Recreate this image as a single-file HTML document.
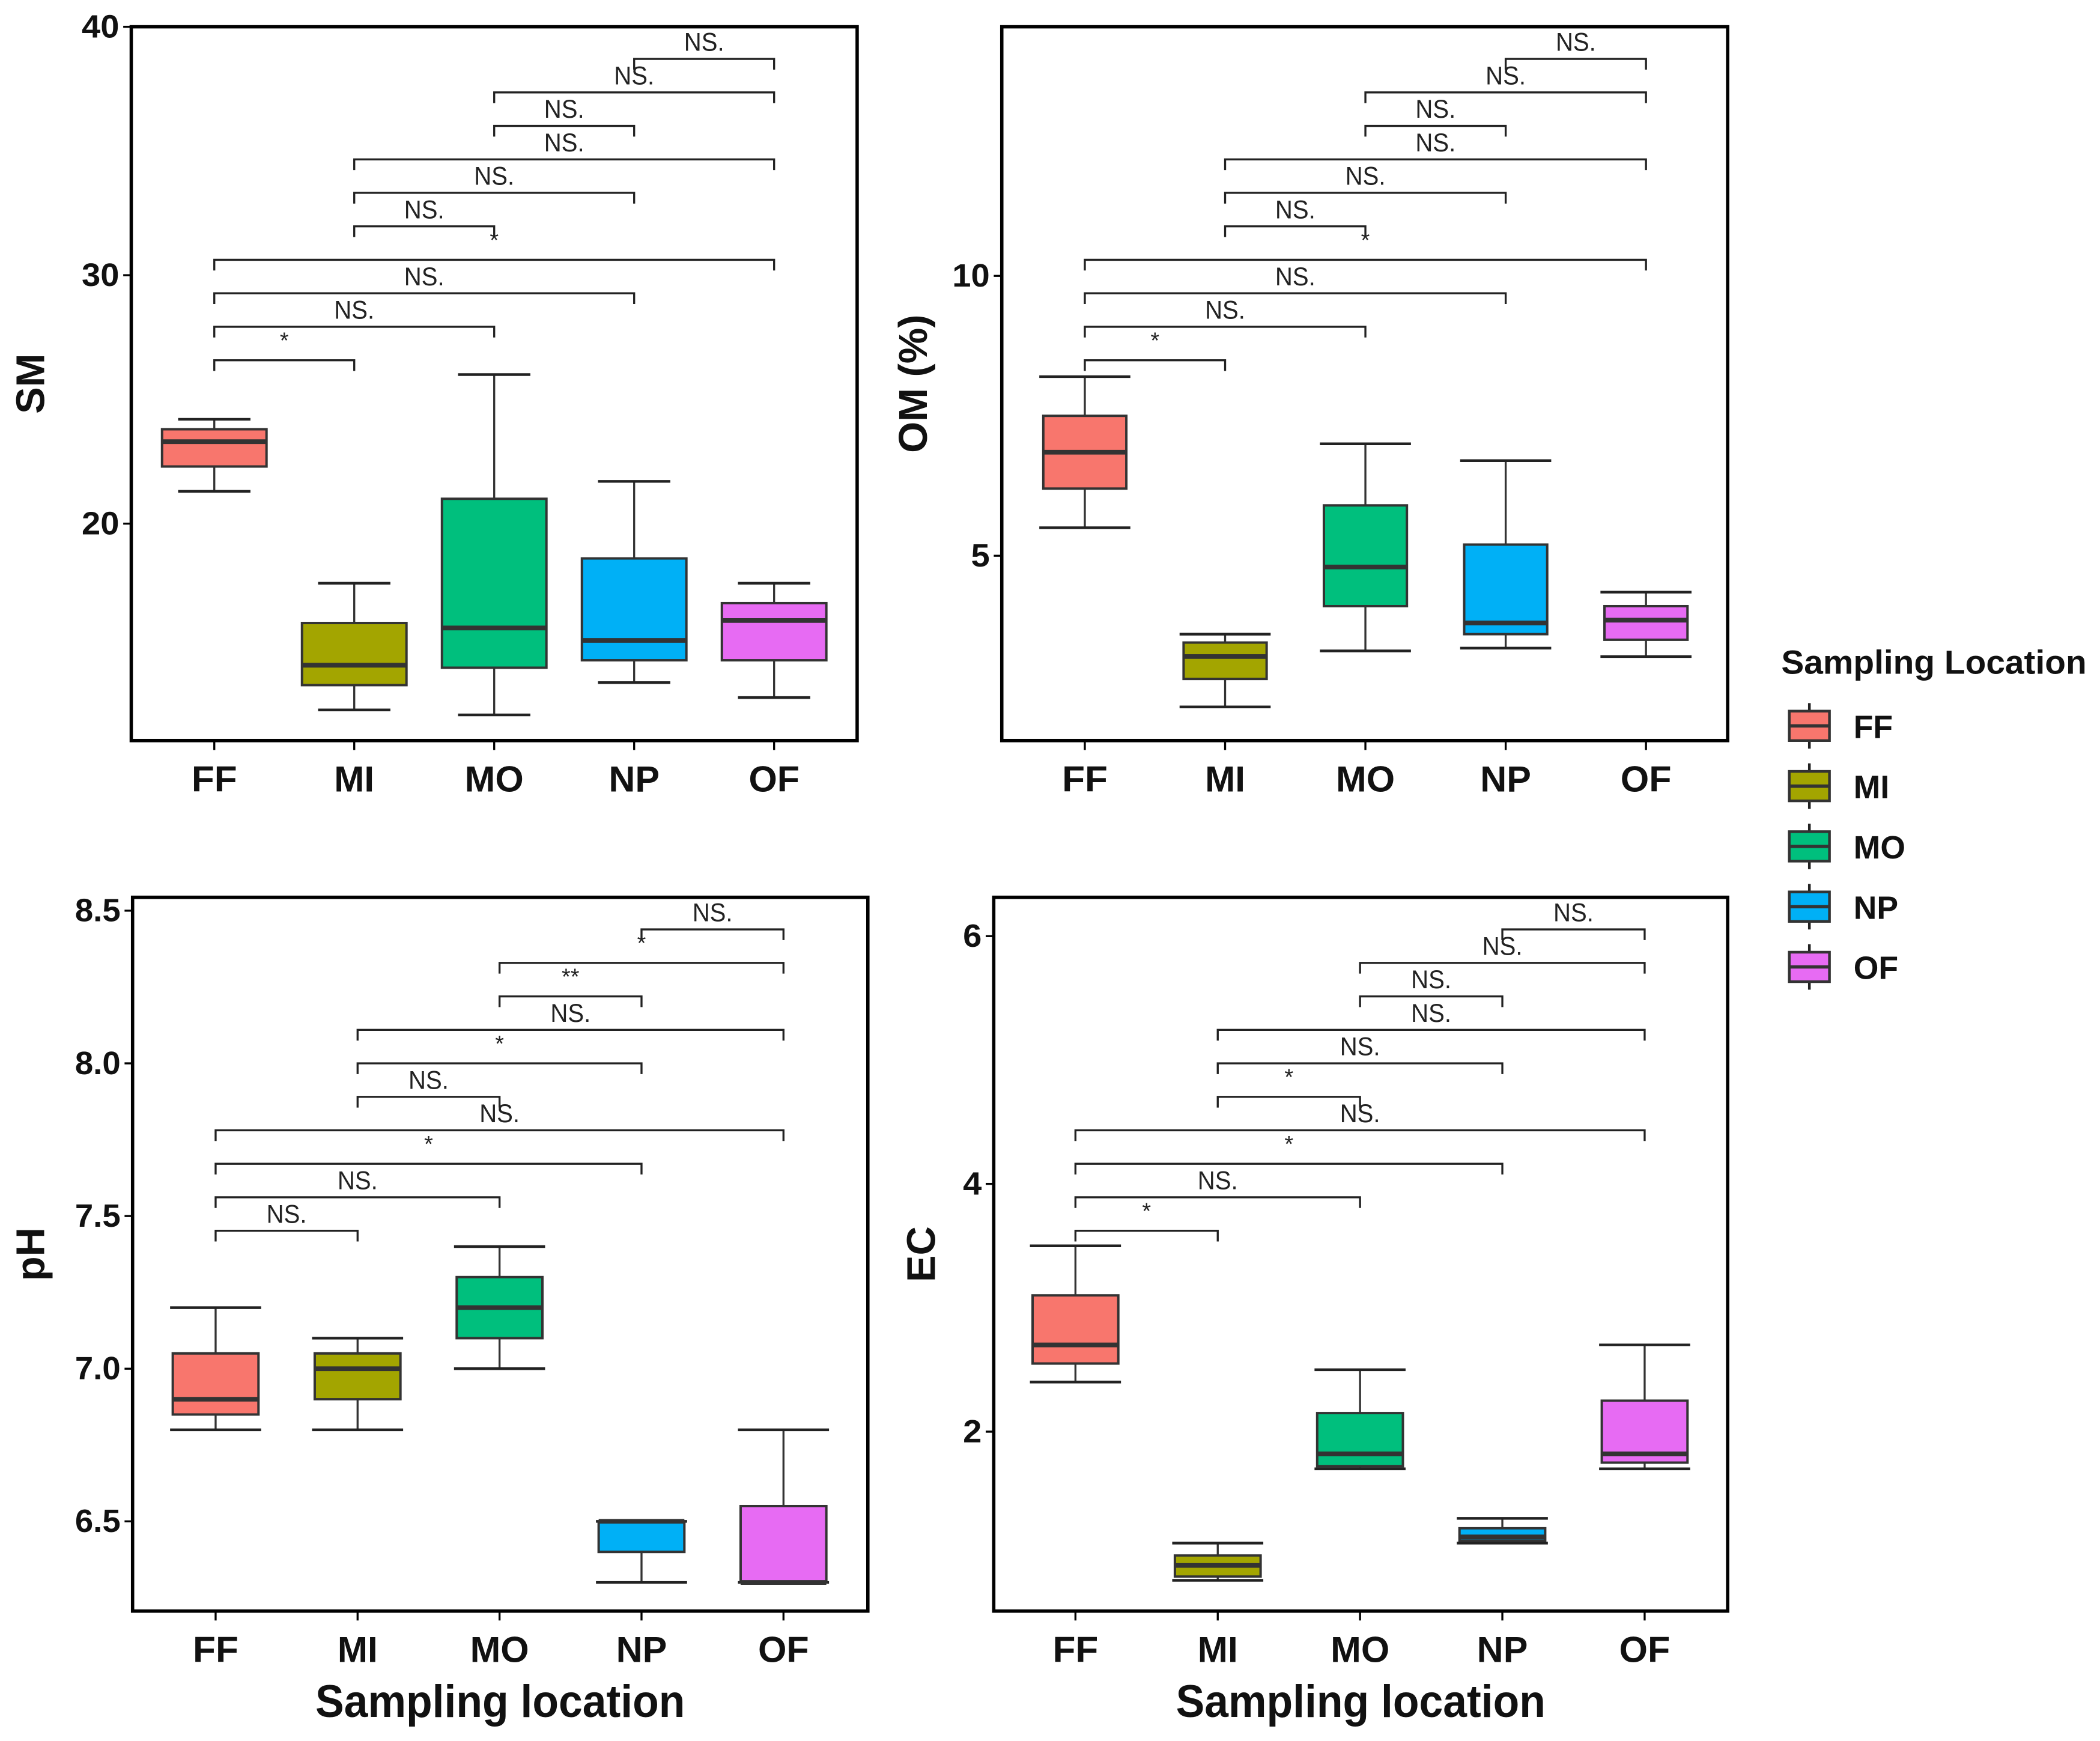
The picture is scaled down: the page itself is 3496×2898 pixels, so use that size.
<!DOCTYPE html>
<html><head><meta charset="utf-8"><style>
html,body{margin:0;padding:0;background:#fff;}
svg{display:block;}
text{font-family:"Liberation Sans",Arial,sans-serif;}
</style></head><body>
<svg id="fig" width="3496" height="2898" viewBox="0 0 1568 1300" preserveAspectRatio="none" xmlns="http://www.w3.org/2000/svg"></svg>
<script>
const categories = ["FF","MI","MO","NP","OF"];
const colors = ["#F8766D","#A3A500","#00BF7D","#00B0F6","#E76BF3"];
// SM
const smLow = [21.3,12.5,12.3,13.6,13.0];
const smQ1 = [22.3,13.5,14.2,14.5,14.5];
const smMed = [23.3,14.3,15.8,15.3,16.1];
const smQ3 = [23.8,16.0,21.0,18.6,16.8];
const smHigh = [24.2,17.6,26.0,21.7,17.6];
const smTicks = [20,30,40];
const smSig = ["*","NS.","NS.","*","NS.","NS.","NS.","NS.","NS.","NS."];
// OM
const omLow = [5.5,2.3,3.3,3.35,3.2];
const omQ1 = [6.2,2.8,4.1,3.6,3.5];
const omMed = [6.85,3.2,4.8,3.8,3.85];
const omQ3 = [7.5,3.45,5.9,5.2,4.1];
const omHigh = [8.2,3.6,7.0,6.7,4.35];
const omTicks = [5,10];
const omSig = ["*","NS.","NS.","*","NS.","NS.","NS.","NS.","NS.","NS."];
// pH
const phLow = [6.8,6.8,7.0,6.3,6.3];
const phQ1 = [6.85,6.9,7.1,6.4,6.3];
const phMed = [6.9,7.0,7.2,6.5,6.3];
const phQ3 = [7.05,7.05,7.3,6.5,6.55];
const phHigh = [7.2,7.1,7.4,6.5,6.8];
const phTicks = [6.5,7.0,7.5,8.0,8.5];
const phSig = ["NS.","NS.","*","NS.","NS.","*","NS.","**","*","NS."];
// EC
const ecLow = [2.4,0.8,1.7,1.1,1.7];
const ecQ1 = [2.55,0.83,1.72,1.12,1.75];
const ecMed = [2.7,0.92,1.82,1.15,1.82];
const ecQ3 = [3.1,1.0,2.15,1.22,2.25];
const ecHigh = [3.5,1.1,2.5,1.3,2.7];
const ecTicks = [2,4,6];
const ecSig = ["*","NS.","*","NS.","*","NS.","NS.","NS.","NS.","NS."];
// comparison pairs (bottom to top)
const pairs = [[0,1],[0,2],[0,3],[0,4],[1,2],[1,3],[1,4],[2,3],[2,4],[3,4]];

const NS = "http://www.w3.org/2000/svg";
const svg = document.getElementById('fig');
function mk(tag, attrs, parent, txt){
  const e = document.createElementNS(NS, tag);
  for (const k in attrs) e.setAttribute(k, attrs[k]);
  if (txt !== undefined) e.textContent = txt;
  (parent||svg).appendChild(e);
  return e;
}
const catW = {FF:34, MI:30, MO:44, NP:38, OF:38};
function tickW(s){ let w = 0; for (const ch of s) w += (ch === '.') ? 6 : 14; return w; }

function panel(cfg){
  const g = mk('g', {});
  
  
  const y = v => cfg.yRef + (cfg.vRef - v) * cfg.ppu;
  const x = i => cfg.cx0 + i * cfg.cstep;
  const fr = mk('rect', {x:cfg.x0, y:cfg.y0, width:cfg.x1-cfg.x0, height:cfg.y1-cfg.y0, fill:'none', stroke:'#000', 'stroke-width':2.5}, g);
  
  
  cfg.ticks.forEach(t => {
    const yy = y(t);
    const s = cfg.fmt(t);
    mk('line', {x1:cfg.x0-6, x2:cfg.x0, y1:yy, y2:yy, stroke:'#000', 'stroke-width':1.5}, g);
    const tl = mk('text', {x:cfg.x0-9, y:yy+8, 'text-anchor':'end', 'font-size':24, 'font-weight':'bold', fill:'#111', textLength:tickW(s), lengthAdjust:'spacingAndGlyphs'}, g, s);
    
    
  });
  categories.forEach((c, i) => {
    mk('line', {x1:x(i), x2:x(i), y1:cfg.y1, y2:cfg.y1+7, stroke:'#000', 'stroke-width':1.5}, g);
    const xl = mk('text', {x:x(i), y:cfg.y1+38, 'text-anchor':'middle', 'font-size':27, 'font-weight':'bold', fill:'#111', textLength:catW[c], lengthAdjust:'spacingAndGlyphs'}, g, c);
    
    
  });
  categories.forEach((c, i) => {
    const bg = mk('g', {}, g);
    
    
    const cx = x(i);
    mk('line', {x1:cx, x2:cx, y1:y(cfg.high[i]), y2:y(cfg.low[i]), stroke:'#333', 'stroke-width':1.5}, bg);
    mk('line', {x1:cx-cfg.wh, x2:cx+cfg.wh, y1:y(cfg.high[i]), y2:y(cfg.high[i]), stroke:'#222', 'stroke-width':2}, bg);
    mk('line', {x1:cx-cfg.wh, x2:cx+cfg.wh, y1:y(cfg.low[i]), y2:y(cfg.low[i]), stroke:'#222', 'stroke-width':2}, bg);
    mk('rect', {x:cx-cfg.bh, y:y(cfg.q3[i]), width:2*cfg.bh, height:Math.max(1,y(cfg.q1[i])-y(cfg.q3[i])), fill:colors[i], stroke:'#333', 'stroke-width':1.8}, bg);
    mk('line', {x1:cx-cfg.bh, x2:cx+cfg.bh, y1:y(cfg.med[i]), y2:y(cfg.med[i]), stroke:'#333', 'stroke-width':3.5}, bg);
  });
  pairs.forEach((p, k) => {
    const ly = cfg.brBottom - k * 25;
    const bg = mk('g', {}, g);
    
    
    mk('path', {d:`M${x(p[0])},${ly+8}V${ly}H${x(p[1])}V${ly+8}`, fill:'none', stroke:'#222', 'stroke-width':1.5}, bg);
    const s = cfg.sig[k];
    const mx = (x(p[0]) + x(p[1])) / 2;
    if (s.indexOf('*') === 0) mk('text', {x:mx, y:ly-9, 'text-anchor':'middle', 'font-size':17, fill:'#222'}, bg, s);
    else mk('text', {x:mx, y:ly-6, 'text-anchor':'middle', 'font-size':19, fill:'#222', textLength:30, lengthAdjust:'spacingAndGlyphs'}, bg, s);
  });
  const yt = mk('text', {transform:`translate(${cfg.ytx},${(cfg.y0+cfg.y1)/2}) rotate(-90)`, 'text-anchor':'middle', 'font-size':30, 'font-weight':'bold', fill:'#111'}, g, cfg.ytitle);
  
  
  if (cfg.xtitle) {
    const xt = mk('text', {x:(cfg.x0+cfg.x1)/2, y:1282, 'text-anchor':'middle', 'font-size':34, 'font-weight':'bold', fill:'#111', textLength:276, lengthAdjust:'spacingAndGlyphs'}, g, cfg.xtitle);
    
    
  }
}

panel({name:'sm-panel', x0:98, x1:640, y0:20, y1:553, yRef:20, vRef:40, ppu:18.55, cx0:160, cstep:104.5,
  low:smLow, q1:smQ1, med:smMed, q3:smQ3, high:smHigh, ticks:smTicks, sig:smSig, fmt:t=>String(t),
  bh:39, wh:27, brBottom:269, ytitle:'SM', ytx:33});
panel({name:'om-panel', x0:748, x1:1290, y0:20, y1:553, yRef:206, vRef:10, ppu:41.8, cx0:810, cstep:104.75,
  low:omLow, q1:omQ1, med:omMed, q3:omQ3, high:omHigh, ticks:omTicks, sig:omSig, fmt:t=>String(t),
  bh:31, wh:34, brBottom:269, ytitle:'OM (%)', ytx:692});
panel({name:'ph-panel', x0:99, x1:648, y0:670, y1:1203, yRef:680, vRef:8.5, ppu:228, cx0:161, cstep:106,
  low:phLow, q1:phQ1, med:phMed, q3:phQ3, high:phHigh, ticks:phTicks, sig:phSig, fmt:t=>t.toFixed(1),
  bh:32, wh:34, brBottom:919, ytitle:'pH', ytx:33, xtitle:'Sampling location'});
panel({name:'ec-panel', x0:742, x1:1290, y0:670, y1:1203, yRef:699, vRef:6, ppu:92.5, cx0:803, cstep:106.25,
  low:ecLow, q1:ecQ1, med:ecMed, q3:ecQ3, high:ecHigh, ticks:ecTicks, sig:ecSig, fmt:t=>String(t),
  bh:32, wh:34, brBottom:919, ytitle:'EC', ytx:698, xtitle:'Sampling location'});

const lg = mk('g', {});


const lt = mk('text', {x:1330, y:503, 'font-size':25, 'font-weight':'bold', fill:'#111', textLength:228, lengthAdjust:'spacingAndGlyphs'}, lg, 'Sampling Location');


categories.forEach((c, i) => {
  const cy = 542 + i * 45;
  const e = mk('g', {}, lg);
  
  
  mk('line', {x1:1351, x2:1351, y1:cy-17, y2:cy+17, stroke:'#222', 'stroke-width':2}, e);
  mk('rect', {x:1336, y:cy-11, width:30, height:22, fill:colors[i], stroke:'#333', 'stroke-width':2}, e);
  mk('line', {x1:1336, x2:1366, y1:cy, y2:cy, stroke:'#333', 'stroke-width':2.5}, e);
  mk('text', {x:1384, y:cy+9, 'font-size':24, 'font-weight':'bold', fill:'#111'}, e, c);
});
</script>
</body></html>
